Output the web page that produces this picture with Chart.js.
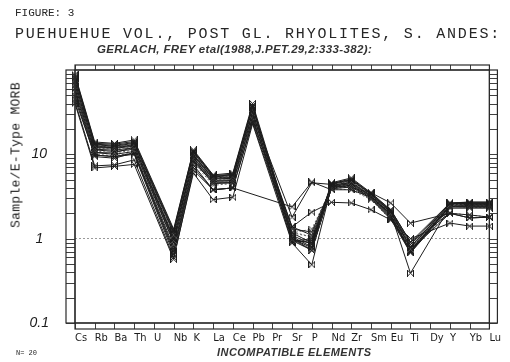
<!DOCTYPE html>
<html lang="en">
<head>
    <meta charset="UTF-8">
    <title>Puehuehue Vol. spider diagram</title>
    <style>
        body {
            margin: 0;
            background-color: #fff;
        }

        .page {
            position: relative;
            width: 510px;
            height: 362px;
            color: #262626;
        }

        .page canvas {
            position: absolute;
            left: 0;
            top: 0;
        }

        .txt {
            position: absolute;
            white-space: nowrap;
        }

        .fig {
            left: 15px;
            top: 8px;
            font: 11px/11px "Liberation Mono", "DejaVu Sans Mono", monospace;
        }

        .title {
            left: 15px;
            top: 27px;
            font: 15px/15px "Liberation Mono", "DejaVu Sans Mono", monospace;
            letter-spacing: 1.8px;
        }

        .source {
            left: 97px;
            top: 44px;
            font: italic bold 11.5px/11px "Liberation Sans", Arial, sans-serif;
            letter-spacing: 0.35px;
            color: #333;
        }

        .xtitle {
            left: 217px;
            top: 347px;
            font: italic bold 11px/11px "Liberation Sans", Arial, sans-serif;
            letter-spacing: 0.45px;
            color: #333;
        }

        .count {
            left: 16px;
            top: 350px;
            font: 7px/7px "Liberation Mono", monospace;
        }

        .ytitle {
            left: 16px;
            top: 155px;
            font: 13px/13px "Liberation Mono", "DejaVu Sans Mono", monospace;
            letter-spacing: 0.3px;
            color: #1c1c1c;
            transform: translate(-50%, -50%) rotate(-90deg);
        }
    </style>
    <script src="https://cdn.jsdelivr.net/npm/chart.js"></script>
</head>
<body>
<div class="page">
    <canvas id="spider" width="510" height="362"></canvas>
    <div class="txt fig">FIGURE: 3</div>
    <div class="txt title">PUEHUEHUE VOL., POST GL. RHYOLITES, S. ANDES:</div>
    <div class="txt source">GERLACH, FREY etal(1988,J.PET.29,2:333-382):</div>
    <div class="txt ytitle">Sample/E-Type MORB</div>
    <div class="txt xtitle">INCOMPATIBLE ELEMENTS</div>
    <div class="txt count">N= 20</div>
</div>
<script>
    // element order along the x axis (U, Pr and Dy have no analyses)
    const elements = ['Cs', 'Rb', 'Ba', 'Th', 'U', 'Nb', 'K', 'La', 'Ce', 'Pb', 'Pr',
        'Sr', 'P', 'Nd', 'Zr', 'Sm', 'Eu', 'Ti', 'Dy', 'Y', 'Yb', 'Lu'];

    // y axis decades that carry a label
    const yLabels = [0.1, 1, 10];

    // sample / E-type MORB, one array per sample
    const s01 = [88, 14, 13.5, 14.8, null, 1.3, 11.3, 5.7, 6.0, 40, null, 1.17, 0.89, 4.6, 5.25, 3.5, 2.2, 0.91, null, 2.65, 2.72, 2.72];
    const s02 = [85, 13.5, 13.2, 14.2, null, 1.25, 11, 5.6, 5.8, 38, null, 1.1, 0.85, 4.5, 5.1, 3.45, 2.15, 0.85, null, 2.65, 2.7, 2.7];
    const s03 = [82, 13.2, 12.8, 13.8, null, 1.2, 10.8, 5.5, 5.7, 37, null, 1.05, 0.8, 4.5, 5.0, 3.4, 2.1, 0.8, null, 2.6, 2.65, 2.65];
    const s04 = [80, 13, 12.5, 13.5, null, 1.15, 10.5, 5.4, 5.6, 36, null, 1.0, 0.78, 4.4, 4.9, 3.35, 2.05, 0.78, null, 2.6, 2.62, 2.62];
    const s05 = [78, 12.8, 12.3, 13.2, null, 1.1, 10.3, 5.3, 5.5, 35, null, 0.98, 0.75, 4.4, 4.8, 3.3, 2.0, 0.75, null, 2.55, 2.6, 2.6];
    const s06 = [76, 12.5, 12.2, 13, null, 1.05, 10, 5.25, 5.4, 34, null, 0.95, 0.73, 4.3, 4.7, 3.25, 2.0, 0.73, null, 2.55, 2.58, 2.58];
    const s07 = [74, 12.2, 12, 12.8, null, 1.0, 9.8, 5.2, 5.3, 33, null, 0.93, 1.0, 4.3, 4.6, 3.2, 1.95, 0.7, null, 2.5, 2.55, 2.55];
    const s08 = [72, 12, 11.8, 12.5, null, 0.98, 9.6, 5.1, 5.2, 32, null, 0.9, 0.95, 4.2, 4.5, 3.15, 1.9, 0.68, null, 2.5, 2.5, 2.5];
    const s09 = [70, 11.8, 11.5, 12.2, null, 0.95, 9.4, 5.0, 5.1, 31, null, 1.2, 1.05, 4.2, 4.4, 3.1, 1.9, 0.8, null, 2.45, 2.5, 2.5];
    const s10 = [68, 11.5, 11.2, 12, null, 0.92, 9.2, 4.9, 5.0, 30, null, 1.3, 1.2, 4.1, 4.3, 3.1, 1.85, 0.75, null, 2.4, 2.45, 2.45];
    const s11 = [66, 11.3, 10.8, 11.5, null, 0.9, 9.0, 4.8, 4.9, 30, null, 1.38, 1.1, 4.1, 4.3, 3.05, 1.8, 0.73, null, 2.4, 2.4, 2.4];
    const s12 = [64, 11, 10.4, 11.2, null, 0.85, 8.8, 4.7, 4.8, 29, null, 1.17, 1.3, 4.0, 4.2, 3.0, 1.8, 0.85, null, 2.38, 2.38, 2.38];
    const s13 = [60, 10.5, 10, 10.8, null, 0.8, 8.6, 4.7, 4.7, 28, null, 1.0, 0.73, 4.0, 4.2, 3.0, 1.75, 0.7, null, 2.38, 2.35, 2.35];
    const s14 = [55, 9.8, 9.4, 10.4, null, 0.75, 8.2, 4.6, 4.6, 27, null, 0.96, 0.89, 3.9, 4.1, 2.95, 1.7, 0.68, null, 2.3, 2.3, 2.3];
    const s15 = [60, 10.5, 10.4, 12.2, null, 0.9, 8.6, 4.5, 4.6, 30, null, 1.8, 4.6, 4.4, 4.0, 3.5, 2.65, 1.53, null, 2.0, 1.91, 1.8];
    const s16 = [50, 9.4, 9.0, 10.4, null, 0.7, 7.5, 3.8, 4.0, null, null, 2.38, 4.7, 3.8, 3.8, 3.1, 2.2, 0.91, null, 2.0, 1.76, 1.8];
    const s17 = [45, 9.8, 9.4, 10, null, 0.65, 7.0, 3.8, 4.0, 25, null, 1.38, 2.07, 2.7, 2.65, 2.2, 1.67, 1.0, null, 1.53, 1.41, 1.41];
    const s18 = [42, 7.3, 7.5, 8.6, null, 0.6, 6.0, 2.9, 3.1, 23, null, 0.89, 0.49, 4.2, 4.4, 3.0, 2.0, 0.39, null, 2.38, 2.5, 2.5];
    const s19 = [40, 6.9, 7.2, 7.6, null, 0.57, 6.5, 3.8, 4.0, 24, null, 1.0, 0.73, 4.0, 4.2, 3.1, 2.0, 0.73, null, 2.0, 1.76, 1.8];
    const s20 = [48, 10, 9.6, 10.4, null, 0.7, 8.0, 4.3, 4.5, 26, null, 1.17, 1.05, 3.9, 3.8, 2.9, 1.67, 0.8, null, 2.0, 1.91, 1.8];

    const samples = [s01, s02, s03, s04, s05, s06, s07, s08, s09, s10,
        s11, s12, s13, s14, s15, s16, s17, s18, s19, s20];
    // a few samples are drawn in a faint dotted pen
    const dotted = [4, 8, 11, 19];

    const plotFont = "'Liberation Sans Narrow', 'DejaVu Sans Condensed', sans-serif";
    const ink = '#1c1c1c';

    function isDecade(v) {
        const l = Math.log10(v);
        return Math.abs(l - Math.round(l)) < 1e-6;
    }

    // plotter symbol: an x closed by two short uprights
    function makeMarker(color) {
        const c = document.createElement('canvas');
        c.width = 7;
        c.height = 7;
        const g = c.getContext('2d');
        g.strokeStyle = color;
        g.lineWidth = 1;
        g.beginPath();
        g.moveTo(0.5, 0.5); g.lineTo(6.5, 6.5);
        g.moveTo(6.5, 0.5); g.lineTo(0.5, 6.5);
        g.moveTo(0.5, 0); g.lineTo(0.5, 7);
        g.moveTo(6.5, 0); g.lineTo(6.5, 7);
        g.stroke();
        return c;
    }
    const darkMarker = makeMarker(ink);
    const faintMarker = makeMarker('#555');

    // box frame with the tick strips the plotter put round the plot
    const plotterFrame = {
        id: 'plotterFrame',
        afterDraw(chart) {
            const {ctx, chartArea: a, scales} = chart;
            const x = scales.x, y = scales.y;
            ctx.save();
            ctx.strokeStyle = '#2a2a2a';
            ctx.lineWidth = 1.2;
            ctx.strokeRect(a.left, a.top, a.right - a.left, a.bottom - a.top);

            // left and right strips, one line per log tick
            ctx.strokeRect(a.left - 9, a.top, 9, a.bottom - a.top);
            ctx.strokeRect(a.right, a.top, 8, a.bottom - a.top);
            ctx.lineWidth = 0.9;
            ctx.beginPath();
            for (let e = -1; e <= 1; e++) {
                for (let m = 1; m <= 9; m++) {
                    const py = Math.round(y.getPixelForValue(m * Math.pow(10, e))) + 0.5;
                    ctx.moveTo(a.left - 9, py);
                    ctx.lineTo(a.left, py);
                    ctx.moveTo(a.right, py);
                    ctx.lineTo(a.right + 8, py);
                }
            }
            ctx.stroke();

            // top and bottom strips, one line per element
            ctx.lineWidth = 1.2;
            ctx.strokeRect(a.left, a.top - 5, a.right - a.left, 5);
            ctx.strokeRect(a.left, a.bottom, a.right - a.left, 6);
            ctx.lineWidth = 0.9;
            ctx.beginPath();
            elements.forEach((el, i) => {
                const px = Math.round(x.getPixelForValue(i)) + 0.5;
                ctx.moveTo(px, a.top - 5);
                ctx.lineTo(px, a.top);
                ctx.moveTo(px, a.bottom);
                ctx.lineTo(px, a.bottom + 6);
            });
            ctx.stroke();
            ctx.restore();
        }
    };

    const datasets = samples.map((values, i) => {
        const faint = dotted.includes(i);
        return {
            label: 'Sample ' + (i + 1),
            data: values,
            borderColor: faint ? '#6a6a6a' : ink,
            borderWidth: 1,
            borderDash: faint ? [2, 2] : [],
            pointStyle: faint ? faintMarker : darkMarker,
            pointRadius: 3,
            spanGaps: true,
            tension: 0
        };
    });

    new Chart(document.getElementById('spider'), {
        type: 'line',
        data: {
            labels: elements,
            datasets: datasets
        },
        options: {
            responsive: false,
            animation: false,
            layout: {
                padding: {top: 70, right: 14, bottom: 0, left: 0}
            },
            plugins: {
                legend: {display: false},
                tooltip: {enabled: false}
            },
            scales: {
                x: {
                    type: 'category',
                    offset: false,
                    grid: {display: false, drawTicks: false},
                    border: {display: false},
                    ticks: {
                        align: 'start',
                        padding: 9,
                        autoSkip: false,
                        maxRotation: 0,
                        color: ink,
                        font: {family: plotFont, size: 11}
                    },
                    afterFit: s => { s.height = 39; }
                },
                y: {
                    type: 'logarithmic',
                    min: 0.1,
                    max: 100,
                    grid: {
                        drawTicks: false,
                        lineWidth: 1,
                        color: c => (c.tick && Math.abs(c.tick.value - 1) < 1e-9) ? '#9a9a9a' : 'rgba(0,0,0,0)'
                    },
                    border: {display: false, dash: [2, 2]},
                    ticks: {
                        autoSkip: false,
                        padding: 26,
                        crossAlign: 'center',
                        color: ink,
                        font: {family: "'Liberation Sans', Arial, sans-serif", size: 14, style: 'italic'},
                        callback: v => {
                            const hit = yLabels.find(d => Math.abs(d - v) < 1e-9 && isDecade(v));
                            if (hit === undefined) return '';
                            return hit < 1 ? '0.1' : String(hit);
                        }
                    },
                    afterFit: s => { s.width = 75; }
                }
            }
        },
        plugins: [plotterFrame]
    });
</script>
</body>
</html>
